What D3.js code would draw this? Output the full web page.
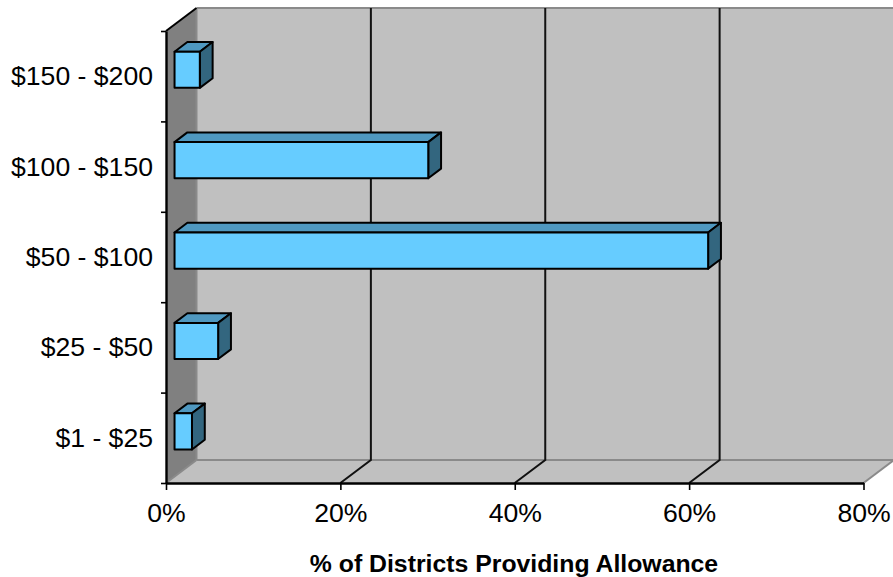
<!DOCTYPE html>
<html>
<head>
<meta charset="utf-8">
<script src="https://cdn.jsdelivr.net/npm/d3@7"></script>
<style>
html,body{margin:0;padding:0;background:#fff;overflow:hidden}
text{font-family:"Liberation Sans",Arial,sans-serif;fill:#000}
</style>
</head>
<body>
<svg id="chart" width="893" height="577"></svg>
<script>
const categories = ["$150 - $200", "$100 - $150", "$50 - $100", "$25 - $50", "$1 - $25"];
const percentages = [2.9, 29.1, 61.2, 5, 2];
const percentTicks = [0, 20, 40, 60, 80];
const axisTitle = "% of Districts Providing Allowance";

const colors = {wall: "#808080", panel: "#c0c0c0", edge: "#8a8a8a", front: "#66ccff", top: "#4f98c0", side: "#33667f", ink: "#000"};

// Plot box: front plane plus the oblique depth vector of the 3-D frame
const plotLeft = 166, plotRight = 863.5, plotTop = 31, plotBottom = 483;
const depthX = 30.5, depthY = -23;
const barNear = 0.28, barFar = 0.7;

const x = d3.scaleLinear().domain([0, 80]).range([plotLeft, plotRight]);
const y = d3.scaleBand().domain(categories).range([plotTop, plotBottom]).paddingInner(0.6).paddingOuter(0.3);
const yBands = d3.scaleLinear().domain([0, categories.length]).range([plotTop, plotBottom]);

const svg = d3.select("#chart");
const poly = pts => pts.map(p => p.join(",")).join(" ");
const shift = ([px, py], f) => [px + depthX * f, py + depthY * f];

// Back wall, side wall and floor
svg.append("polygon")
  .attr("points", poly([[plotLeft + depthX, plotTop + depthY], [plotRight + depthX, plotTop + depthY], [plotRight + depthX, plotBottom + depthY], [plotLeft + depthX, plotBottom + depthY]]))
  .attr("fill", colors.panel);
svg.append("polygon")
  .attr("points", poly([[plotLeft, plotTop], [plotLeft + depthX, plotTop + depthY], [plotLeft + depthX, plotBottom + depthY], [plotLeft, plotBottom]]))
  .attr("fill", colors.wall);
svg.append("polygon")
  .attr("points", poly([[plotLeft, plotBottom], [plotRight, plotBottom], [plotRight + depthX, plotBottom + depthY], [plotLeft + depthX, plotBottom + depthY]]))
  .attr("fill", colors.panel);

// Grey frame edges
const edges = [
  [[plotLeft + depthX, plotTop + depthY], [plotRight + depthX, plotTop + depthY]],
  [[plotLeft + depthX, plotTop + depthY], [plotLeft + depthX, plotBottom + depthY]],
  [[plotLeft + depthX, plotBottom + depthY], [plotRight + depthX, plotBottom + depthY]],
  [[plotLeft, plotBottom], [plotLeft + depthX, plotBottom + depthY]],
  [[plotRight, plotBottom], [plotRight + depthX, plotBottom + depthY]]
];
svg.append("g").selectAll("line").data(edges).join("line")
  .attr("x1", d => d[0][0]).attr("y1", d => d[0][1])
  .attr("x2", d => d[1][0]).attr("y2", d => d[1][1])
  .attr("stroke", colors.edge).attr("stroke-width", 2);

// Gridlines run along the floor and up the back wall
const grid = svg.append("g").attr("fill", "none").attr("stroke", "#111").attr("stroke-width", 2);
grid.selectAll("path").data(percentTicks.filter(t => t > 0 && t < 80)).join("path")
  .attr("d", t => `M${x(t)},${plotBottom}L${x(t) + depthX},${plotBottom + depthY}L${x(t) + depthX},${plotTop + depthY}`);

// Top edge of the side wall
svg.append("line")
  .attr("x1", plotLeft).attr("y1", plotTop).attr("x2", plotLeft + depthX).attr("y2", plotTop + depthY)
  .attr("stroke", colors.ink).attr("stroke-width", 2);

// Bars as three-faced prisms
const bars = svg.append("g").selectAll("g").data(categories).join("g")
  .attr("stroke", colors.ink).attr("stroke-width", 2).attr("stroke-linejoin", "round");
const corners = (d, i) => {
  const x1 = x(percentages[i]), y0 = y(d), y1 = y0 + y.bandwidth();
  return {a: shift([plotLeft, y0], barNear), b: shift([x1, y0], barNear), c: shift([x1, y1], barNear), e: shift([plotLeft, y1], barNear)};
};
const span = barFar - barNear;
bars.append("polygon").attr("fill", colors.top).attr("points", (d, i) => {
  const {a, b} = corners(d, i);
  return poly([a, b, shift(b, span), shift(a, span)]);
});
bars.append("polygon").attr("fill", colors.side).attr("points", (d, i) => {
  const {b, c} = corners(d, i);
  return poly([b, c, shift(c, span), shift(b, span)]);
});
bars.append("polygon").attr("fill", colors.front).attr("points", (d, i) => {
  const {a, b, c, e} = corners(d, i);
  return poly([a, b, c, e]);
});

// Axes
const xAxis = svg.append("g").attr("transform", `translate(0,${plotBottom})`)
  .call(d3.axisBottom(x).tickValues(percentTicks).tickFormat(d => d + "%").tickSize(7).tickPadding(10.5).tickSizeOuter(0));
xAxis.selectAll("text").attr("font-size", 26.6).attr("dy", "0.8em");

const yTicks = svg.append("g").attr("transform", `translate(${plotLeft},0)`)
  .call(d3.axisLeft(yBands).tickValues(d3.range(categories.length + 1)).tickFormat("").tickSize(5).tickSizeOuter(0));
const yLabels = svg.append("g").attr("transform", `translate(${plotLeft},0)`)
  .call(d3.axisLeft(y).tickSize(0).tickPadding(13));
yLabels.select(".domain").remove();
yLabels.selectAll("text").attr("font-size", 26.6).attr("dy", "0.34em");

[xAxis, yTicks].forEach(g => {
  g.selectAll(".domain").attr("stroke", colors.ink).attr("stroke-width", 2.4);
  g.selectAll("line").attr("stroke", colors.ink).attr("stroke-width", 1.6);
});

svg.append("text")
  .attr("x", 514).attr("y", 572).attr("text-anchor", "middle")
  .attr("font-size", 24.8).attr("font-weight", "bold")
  .text(axisTitle);
</script>
</body>
</html>
